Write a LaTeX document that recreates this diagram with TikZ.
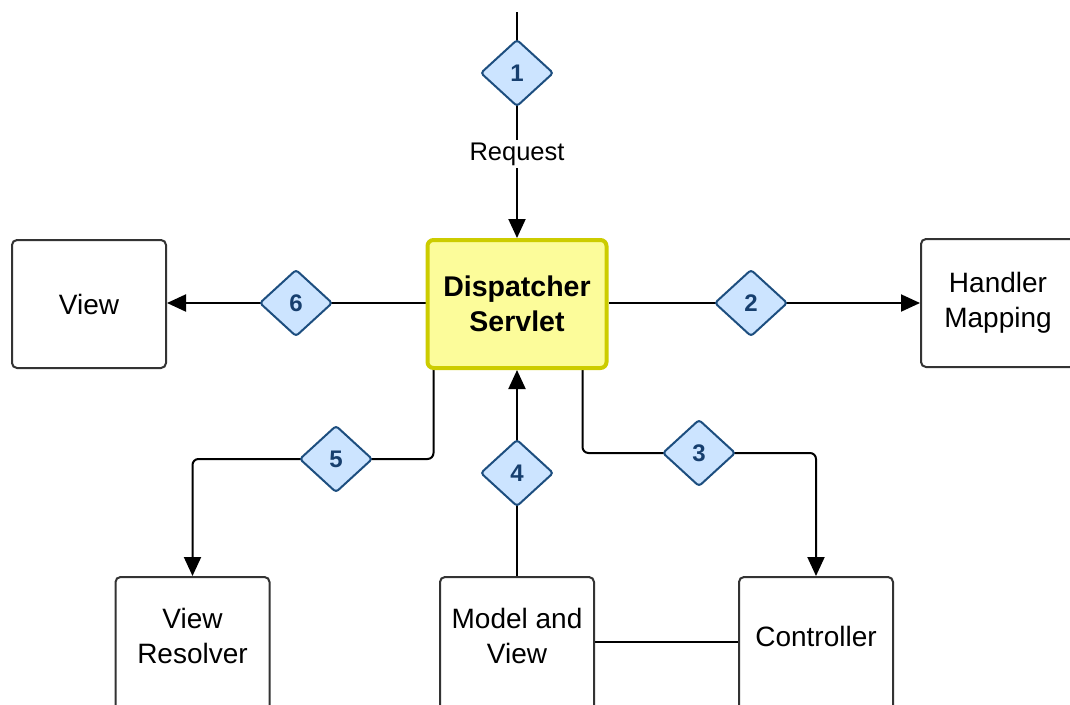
\documentclass[tikz,border=0pt]{standalone}
\usepackage{fontspec}
\setmainfont{Liberation Sans}
\usetikzlibrary{shapes.geometric,arrows.meta,backgrounds}
\definecolor{dsfill}{HTML}{FCFC9A}
\definecolor{dsborder}{HTML}{CCCC00}
\definecolor{dmfill}{HTML}{CCE4FF}
\definecolor{dmborder}{HTML}{1D4E7F}
\definecolor{dmtext}{HTML}{173F6E}
\definecolor{boxborder}{HTML}{333333}
\newcommand{\lowstrut}{\rule[-20pt]{0pt}{20pt}}
\begin{document}
\begin{tikzpicture}[x=1pt,y=-1pt,
 box/.style={draw=boxborder,line width=2pt,rounded corners=5pt,fill=white,minimum width=154pt,minimum height=128pt,align=center,font=\fontsize{28}{35}\selectfont,inner sep=0pt},
 lowbox/.style={box,minimum height=138pt},
 ds/.style={draw=dsborder,fill=dsfill,line width=4pt,rounded corners=6pt,minimum width=179pt,minimum height=128pt,align=center,font=\bfseries\fontsize{28.5}{35}\selectfont,inner sep=0pt},
 num/.style={diamond,draw=dmborder,fill=dmfill,line width=2pt,rounded corners=3pt,minimum width=73pt,minimum height=67pt,inner sep=0pt,text=dmtext,font=\bfseries\fontsize{24}{24}\selectfont},
 conn/.style={line width=2pt,black},
 arr/.style={conn,-{Triangle[length=19pt,width=17pt]}},
 lbl/.style={fill=white,inner sep=3pt,font=\fontsize{25.5}{30}\selectfont}
]
\useasboundingbox (0,0) rectangle (1070,704);
\clip (0,0) rectangle (1070,704);

\coordinate (top) at (517,12);
\node[ds] (disp) at (517,304) {Dispatcher\\Servlet};
\node[box] (view) at (89,304) {View};
\node[box] (hm) at (998,303) {Handler\\Mapping};
\node[lowbox] (vr) at (192.5,646) {View\\Resolver\lowstrut};
\node[lowbox] (mv) at (517,646) {Model and\\View\lowstrut};
\node[lowbox] (ctrl) at (816,646) {Controller\lowstrut};

\node[num] (d1) at (517,73) {1};
\node[num] (d6) at (296,303) {6};
\node[num] (d2) at (751,303) {2};
\node[num] (d5) at (336,459) {5};
\node[num] (d4) at (517,473) {4};
\node[num] (d3) at (699,453) {3};

\begin{pgfonlayer}{background}
\draw[arr] (top) -- (disp.north);
\draw[arr] (disp.west |- d6) -- (view.east |- d6);
\draw[arr] (disp.east |- d2) -- (hm.west |- d2);
\draw[arr] (mv.north) -- (disp.south);
\draw[arr,rounded corners=6pt] ([xshift=8pt]disp.south west) |- (d5.center) -| (vr.north);
\draw[arr,rounded corners=6pt] ([xshift=-26pt]disp.south east) |- (d3.center) -| (ctrl.north);
\draw[conn] ([yshift=4pt]mv.east) -- ([yshift=4pt]ctrl.west);
\end{pgfonlayer}

\node[lbl] (req) at (517,154) {Request};
\end{tikzpicture}
\end{document}
